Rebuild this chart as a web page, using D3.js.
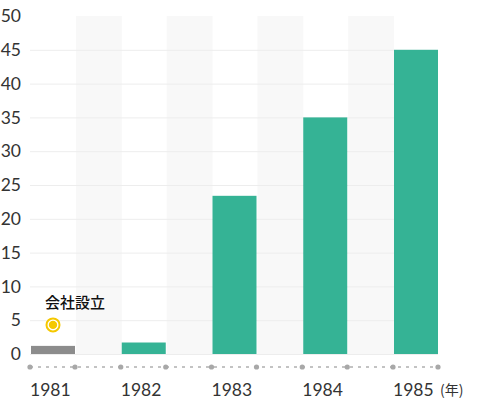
<!DOCTYPE html>
<html>
<head>
<meta charset="utf-8">
<script src="https://cdn.jsdelivr.net/npm/d3@7"></script>
<style>
  body { margin: 0; background: #fff; }
  svg { display: block; }
</style>
</head>
<body>
<div id="chart"></div>
<script>
// data
let years = ['1981', '1982', '1983', '1984', '1985'];
let values = [1.2, 1.7, 23.4, 35, 45];
let y_ticks = [0, 5, 10, 15, 20, 25, 30, 35, 40, 45, 50];
let grid_ticks = [0, 5, 10, 15, 20, 25, 30, 35, 40, 45];
let founded_year = '1981';
let founded_label = '会社設立';
let unit_label = '(年)';

let svg_width = 485;
let svg_height = 408;

let plot_left = 31;
let step = 90.75;
let bar_width = 44;
let axis_y = 367;

let svg = d3.select('#chart')
    .append('svg')
    .attr('width', svg_width)
    .attr('height', svg_height);

let x = d3.scaleBand()
    .domain(years)
    .range([plot_left, plot_left + step * years.length])
    .padding(0);

let y = d3.scaleLinear()
    .domain([0, 50])
    .range([354, 16]);

// light bands between the bars
svg.selectAll('rect.band')
    .data(years.slice(0, years.length - 1))
    .enter()
    .append('rect')
    .attr('class', 'band')
    .attr('x', d => x(d) + bar_width + 1)
    .attr('y', y(50))
    .attr('width', x.bandwidth() - bar_width - 1)
    .attr('height', y(0) - y(50))
    .attr('fill', '#f8f8f8');

// grid lines
let grid = svg.append('g')
    .attr('transform', 'translate(30,0)')
    .call(d3.axisLeft(y).tickValues(grid_ticks).tickSize(-(x(years[4]) + bar_width - 30)).tickFormat(''));
grid.select('.domain').remove();
grid.selectAll('line').attr('stroke', '#ededed');

// y labels
let y_axis = svg.append('g')
    .attr('transform', 'translate(21,0)')
    .call(d3.axisLeft(y).tickValues(y_ticks).tickSize(0).tickPadding(0));
y_axis.select('.domain').remove();
y_axis.selectAll('text')
    .attr('font-family', 'Lato, sans-serif')
    .attr('font-size', 17.5)
    .attr('fill', '#333');

// bars
svg.selectAll('rect.bar')
    .data(years)
    .enter()
    .append('rect')
    .attr('class', 'bar')
    .attr('x', d => x(d))
    .attr('y', (d, i) => y(values[i]))
    .attr('width', bar_width)
    .attr('height', (d, i) => y(0) - y(values[i]))
    .attr('fill', d => d === founded_year ? '#8c8c8c' : '#35b395');

// dotted baseline
let axis_end = x(years[years.length - 1]) + bar_width;
svg.append('line')
    .attr('x1', plot_left - 1)
    .attr('x2', axis_end)
    .attr('y1', axis_y)
    .attr('y2', axis_y)
    .attr('stroke', '#b0b0b0')
    .attr('stroke-width', 1.5)
    .attr('stroke-dasharray', '3,5');

let dot_x = [];
years.forEach(d => { dot_x.push(x(d) - 1, x(d) + bar_width); });
svg.selectAll('circle.dot')
    .data(dot_x)
    .enter()
    .append('circle')
    .attr('class', 'dot')
    .attr('cx', d => d)
    .attr('cy', axis_y)
    .attr('r', 2.6)
    .attr('fill', '#a8a8a8');

// x labels
svg.selectAll('text.year')
    .data(years)
    .enter()
    .append('text')
    .attr('class', 'year')
    .attr('x', d => x(d) - 1)
    .attr('y', 396)
    .attr('font-family', 'Lato, sans-serif')
    .attr('font-size', 17.5)
    .attr('fill', '#333')
    .text(d => d);

svg.append('text')
    .attr('x', 440)
    .attr('y', 395)
    .attr('font-family', '"Noto Sans CJK JP", sans-serif')
    .attr('font-size', 14)
    .attr('fill', '#333')
    .text(unit_label);

// founding marker
let fx = x(founded_year) + bar_width / 2;
let fi = years.indexOf(founded_year);
svg.append('text')
    .attr('x', fx - 8)
    .attr('y', 308)
    .attr('font-family', '"Noto Sans CJK JP", sans-serif')
    .attr('font-weight', 500)
    .attr('font-size', 15)
    .attr('fill', '#111')
    .text(founded_label);

svg.append('circle')
    .attr('cx', fx)
    .attr('cy', y(values[fi]) - 21)
    .attr('r', 6.5)
    .attr('fill', '#fff')
    .attr('stroke', '#f5c800')
    .attr('stroke-width', 2);

svg.append('circle')
    .attr('cx', fx)
    .attr('cy', y(values[fi]) - 21)
    .attr('r', 4.2)
    .attr('fill', '#f5c800');
</script>
</body>
</html>
